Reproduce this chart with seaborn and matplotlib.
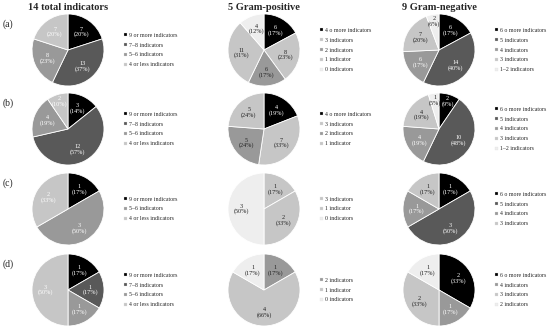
import matplotlib.pyplot as plt
import seaborn as sns
from matplotlib.patches import Patch

TITLES = ["14 total indicators", "5 Gram-positive", "9 Gram-negative"]
ROW_TAGS = ["(a)", "(b)", "(c)", "(d)"]

TOTAL_CATS = ["9 or more indicators", "7–8 indicators", "5–6 indicators", "4 or less indicators"]
POS_CATS = ["4 o more indicators", "3 indicators", "2 indicators", "1 indicator", "0 indicators"]
NEG_CATS = ["6 o more indicators", "5 indicators", "4 indicators", "3 indicators", "1–2 indicators"]

# row (a)
A_TOTAL = [7, 13, 8, 7]
A_TOTAL_PCT = [20, 37, 23, 20]
A_POS = [6, 8, 6, 11, 4]
A_POS_PCT = [17, 23, 17, 31, 12]
A_NEG = [6, 14, 6, 7, 2]
A_NEG_PCT = [17, 40, 17, 20, 6]

# row (b)
B_TOTAL = [3, 12, 4, 2]
B_TOTAL_PCT = [14, 57, 19, 10]
B_POS = [4, 7, 5, 5]
B_POS_PCT = [19, 33, 24, 24]
B_POS_CATS = POS_CATS[:4]
B_NEG = [2, 10, 4, 4, 1]
B_NEG_PCT = [9, 48, 19, 19, 5]

# row (c)
C_TOTAL = [1, 3, 2]
C_TOTAL_PCT = [17, 50, 33]
C_TOTAL_CATS = ["9 or more indicators", "5–6 indicators", "4 or less indicators"]
C_POS = [1, 2, 3]
C_POS_PCT = [17, 33, 50]
C_POS_CATS = ["3 indicators", "1 indicator", "0 indicators"]
C_NEG = [1, 3, 1, 1]
C_NEG_PCT = [17, 50, 17, 17]
C_NEG_CATS = NEG_CATS[:4]

# row (d)
D_TOTAL = [1, 1, 1, 3]
D_TOTAL_PCT = [17, 17, 17, 50]
D_POS = [1, 4, 1]
D_POS_PCT = [17, 66, 17]
D_POS_CATS = ["2 indicators", "1 indicator", "0 indicators"]
D_NEG = [2, 1, 2, 1]
D_NEG_PCT = [33, 17, 33, 17]
D_NEG_CATS = ["6 o more indicators", "4 indicators", "3 indicators", "2 indicators"]

GRAYS = ["#000000", "#595959", "#999999", "#c6c6c6", "#eeeeee"]
LEVEL = {c: i for i, c in enumerate(TOTAL_CATS)}
LEVEL.update({c: i for i, c in enumerate(POS_CATS)})
LEVEL.update({c: i for i, c in enumerate(NEG_CATS)})
LEVEL_NEG_D = {"2 indicators": 4}

ROWS = [
    [(TOTAL_CATS, A_TOTAL, A_TOTAL_PCT), (POS_CATS, A_POS, A_POS_PCT), (NEG_CATS, A_NEG, A_NEG_PCT)],
    [(TOTAL_CATS, B_TOTAL, B_TOTAL_PCT), (B_POS_CATS, B_POS, B_POS_PCT), (NEG_CATS, B_NEG, B_NEG_PCT)],
    [(C_TOTAL_CATS, C_TOTAL, C_TOTAL_PCT), (C_POS_CATS, C_POS, C_POS_PCT), (C_NEG_CATS, C_NEG, C_NEG_PCT)],
    [(TOTAL_CATS, D_TOTAL, D_TOTAL_PCT), (D_POS_CATS, D_POS, D_POS_PCT), (D_NEG_CATS, D_NEG, D_NEG_PCT)],
]

sns.set_theme(style="white")
plt.rcParams["font.family"] = ["Liberation Serif", "DejaVu Serif"]

W, H = 550, 329
COL_X = [68, 264, 439]
ROW_Y = [50, 129, 209, 290]
R = 36

fig = plt.figure(figsize=(W / 100, H / 100), dpi=100)

for r, row in enumerate(ROWS):
    for c, (cats, values, pcts) in enumerate(row):
        cx, cy = COL_X[c], ROW_Y[r]
        ax = fig.add_axes([(cx - R) / W, (H - cy - R) / H, 2 * R / W, 2 * R / H])
        levels = []
        for cat in cats:
            lv = LEVEL[cat]
            if r == 3 and c == 2 and cat in LEVEL_NEG_D:
                lv = LEVEL_NEG_D[cat]
            levels.append(lv)
        colors = [GRAYS[lv] for lv in levels]
        labels = iter([f"{v}\n({p}%)" for v, p in zip(values, pcts)])
        wedges, _, autotexts = ax.pie(
            values,
            colors=colors,
            startangle=90,
            counterclock=False,
            autopct=lambda _p: next(labels),
            pctdistance=0.62,
            wedgeprops=dict(edgecolor="white", linewidth=0.6),
            textprops=dict(fontsize=4.4, linespacing=1.0),
        )
        total = sum(values)
        for txt, lv, v in zip(autotexts, levels, values):
            if c == 0 or lv <= 1 or (c == 2 and lv == 2):
                txt.set_color("white")
            else:
                txt.set_color("#222222")
            if v / total < 0.11:
                x, y = txt.get_position()
                txt.set_position((x * 1.3, y * 1.3))
        ax.set_xlim(-1, 1)
        ax.set_ylim(-1, 1)
        handles = [Patch(facecolor=col, edgecolor="#dddddd", linewidth=0.2) for col in colors]
        ax.legend(
            handles,
            cats,
            loc="center left",
            bbox_to_anchor=(1.24, 0.5),
            frameon=False,
            fontsize=4.2,
            handlelength=0.55,
            handleheight=0.55,
            handletextpad=0.35,
            labelspacing=0.85,
            borderpad=0,
        )
        if r == 0:
            ax.set_title(TITLES[c], fontsize=7.5, fontweight="bold", pad=3)
        if c == 0:
            ax.text(-0.33, 0.86, ROW_TAGS[r], transform=ax.transAxes,
                    fontsize=7, ha="center", va="center")

fig.savefig("out.png", dpi=100, facecolor="white")
